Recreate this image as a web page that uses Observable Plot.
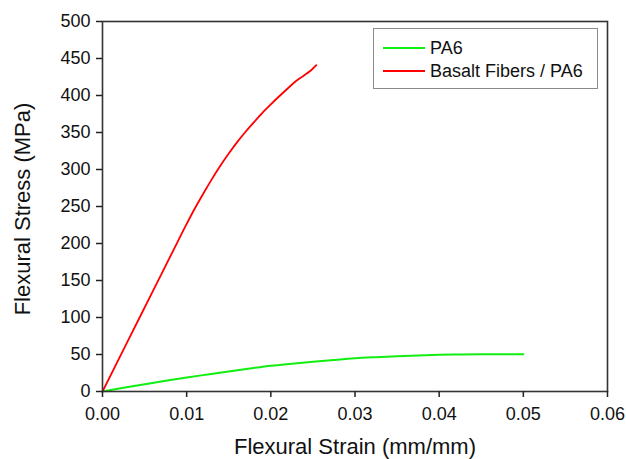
<!DOCTYPE html>
<html>
<head>
<meta charset="utf-8">
<script src="https://cdn.jsdelivr.net/npm/d3@7"></script>
<script src="https://cdn.jsdelivr.net/npm/@observablehq/plot@0.6"></script>
<style>
  html, body { margin: 0; padding: 0; background: #fff; }
  #wrap { position: relative; width: 626px; height: 459px; font-family: "Liberation Sans", Arial, sans-serif; }
  #legend { position: absolute; left: 373px; top: 28px; width: 225px; height: 61px; box-sizing: border-box;
            border: 1px solid #8a8a8a; background: #fff; padding-top: 8px; }
  .row { position: relative; height: 22.7px; display: flex; align-items: center; font-size: 18px; color: #111; }
  .sw { width: 42px; height: 2px; margin-left: 9px; margin-right: 5px; margin-top: -1px; }
</style>
</head>
<body>
<div id="wrap"></div>
<script>
// Series names and colours
const seriesNames = ["PA6", "Basalt Fibers / PA6"];
const seriesColors = ["#11ee11", "#ff0000"];

// PA6 curve (strain mm/mm, stress MPa)
const pa6Strain = [0, 0.0025, 0.005, 0.0075, 0.010, 0.0125, 0.015, 0.0175, 0.020, 0.0225, 0.025, 0.0275, 0.030, 0.0325, 0.035, 0.0375, 0.040, 0.0425, 0.045, 0.0475, 0.050];
const pa6Stress = [0, 5.0, 9.8, 14.5, 18.9, 23.0, 27.0, 31.0, 34.8, 37.6, 40.2, 42.6, 44.8, 46.4, 47.8, 48.8, 49.5, 50.0, 50.3, 50.4, 50.4];

// Basalt Fibers / PA6 curve
const bfStrain = [0, 0.003, 0.006, 0.009, 0.010, 0.011, 0.012, 0.013, 0.014, 0.015, 0.016, 0.017, 0.018, 0.019, 0.020, 0.021, 0.022, 0.023, 0.0236, 0.0241, 0.0246, 0.0250, 0.0254];
const bfStress = [0, 68, 136, 204, 226.5, 248, 268, 287, 305, 321.5, 337, 351, 364, 376.5, 388, 399, 409.5, 419.5, 424.5, 428.5, 432.5, 436.5, 441];

// Axis ticks
const xTicks = [0, 0.01, 0.02, 0.03, 0.04, 0.05, 0.06];
const yTicks = [0, 50, 100, 150, 200, 250, 300, 350, 400, 450, 500];
const xTitle = "Flexural Strain (mm/mm)";
const yTitle = "Flexural Stress (MPa)";

const pa6 = pa6Strain.map((x, i) => ({x, y: pa6Stress[i]}));
const bf = bfStrain.map((x, i) => ({x, y: bfStress[i]}));

const chart = Plot.plot({
  width: 626,
  height: 459,
  marginLeft: 102,
  marginRight: 19,
  marginTop: 21,
  marginBottom: 68,
  style: { fontFamily: "'Liberation Sans', Arial, sans-serif", fontSize: "18px", color: "#222", background: "#fff" },
  x: { domain: [0, 0.06] },
  y: { domain: [0, 500] },
  marks: [
    Plot.line(pa6, { x: "x", y: "y", stroke: seriesColors[0], strokeWidth: 2, curve: "monotone-x" }),
    Plot.line(bf, { x: "x", y: "y", stroke: seriesColors[1], strokeWidth: 1.8, curve: "monotone-x" }),
    Plot.frame({ stroke: "#333", strokeWidth: 1.6 }),
    Plot.axisX({ ticks: xTicks, tickFormat: d3.format(".2f"), tickSize: 6, tickPadding: 10, strokeWidth: 1.5, label: null, fill: "#111" }),
    Plot.axisY({ ticks: yTicks, tickFormat: d3.format("d"), tickSize: 6, tickPadding: 6, strokeWidth: 1.5, label: null, fill: "#111" }),
    Plot.text([xTitle], { text: d => d, frameAnchor: "bottom", textAnchor: "middle", lineAnchor: "middle", dy: 55, fontSize: 22, fill: "#111" }),
    Plot.text([yTitle], { text: d => d, frameAnchor: "left", textAnchor: "middle", lineAnchor: "middle", rotate: -90, dx: -80, dy: 2.5, fontSize: 22, fill: "#111" })
  ]
});

const wrap = document.getElementById("wrap");
wrap.appendChild(chart);

const legend = document.createElement("div");
legend.id = "legend";
seriesNames.forEach((name, i) => {
  const row = document.createElement("div");
  row.className = "row";
  const sw = document.createElement("span");
  sw.className = "sw";
  sw.style.background = seriesColors[i];
  const label = document.createElement("span");
  label.textContent = name;
  row.appendChild(sw);
  row.appendChild(label);
  legend.appendChild(row);
});
wrap.appendChild(legend);
</script>
</body>
</html>
